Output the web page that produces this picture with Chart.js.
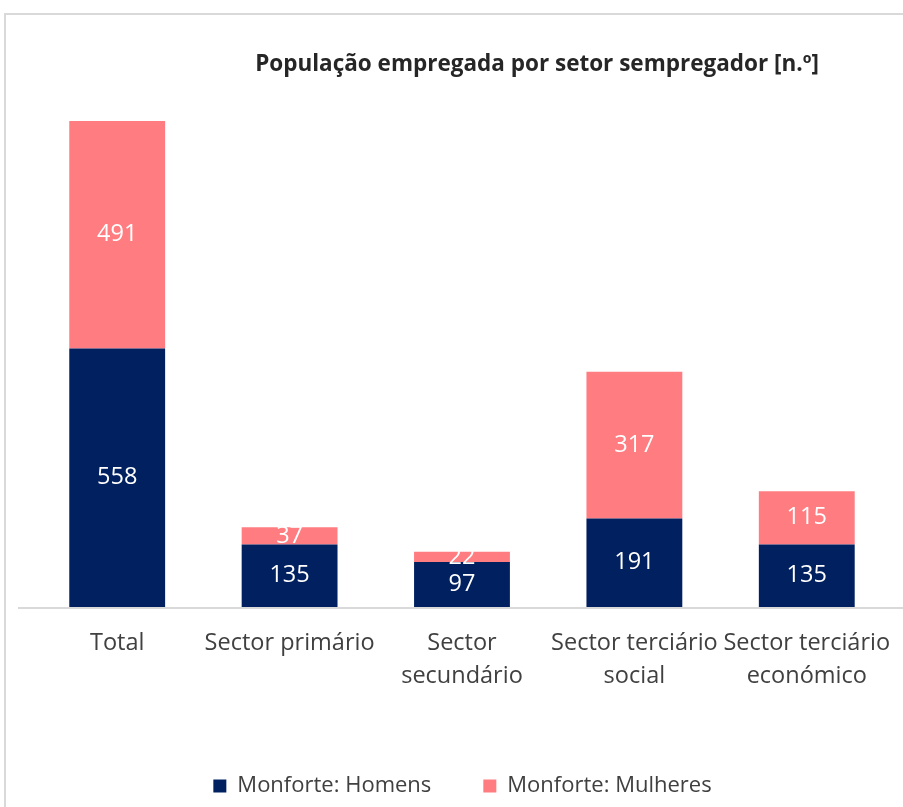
<!DOCTYPE html>
<html>
<head>
<meta charset="utf-8">
<script src="https://cdn.jsdelivr.net/npm/chart.js@4.4.1/dist/chart.umd.min.js"></script>
<style>
  body { margin: 0; background: #fff; overflow: hidden; }
  #frame { position: absolute; left: 4px; top: 13px; width: 1000px; height: 1000px; border: 2px solid #d9d9d9; }
  #title { position: absolute; left: 187px; width: 700px; top: 48px; line-height: 30px; text-align: center;
           font-family: "Open Sans"; font-weight: bold; font-size: 22.5px; color: #262626; }
  canvas { position: absolute; left: 0; top: 0; }
</style>
</head>
<body>
<div id="frame"></div>
<canvas id="myBarChart" width="903" height="807"></canvas>
<div id="title">População empregada por setor sempregador [n.º]</div>
<script>
const categories = ["Total", "Sector primário", ["Sector", "secundário"], ["Sector terciário", "social"], ["Sector terciário", "económico"]];
const homens = [558, 135, 97, 191, 135];
const mulheres = [491, 37, 22, 317, 115];
const seriesNames = ["Monforte: Homens", "Monforte: Mulheres"];

const textColor = "#404040";

// values in the middle of each segment
const segmentLabels = {
    id: "segmentLabels",
    afterDatasetsDraw(chart) {
        const ctx = chart.ctx;
        ctx.save();
        ctx.fillStyle = "#ffffff";
        ctx.font = "23.5px 'Open Sans'";
        ctx.textAlign = "center";
        ctx.textBaseline = "middle";
        chart.data.datasets.forEach((ds, i) => {
            chart.getDatasetMeta(i).data.forEach((bar, j) => {
                ctx.fillText(ds.data[j], bar.x, (bar.y + bar.base) / 2);
            });
        });
        ctx.restore();
    }
};

const baseLine = {
    id: "baseLine",
    beforeDatasetsDraw(chart) {
        const ctx = chart.ctx;
        const y = chart.scales.y.getPixelForValue(0);
        ctx.save();
        ctx.strokeStyle = "#d9d9d9";
        ctx.lineWidth = 2;
        ctx.beginPath();
        ctx.moveTo(chart.chartArea.left - 13, y + 1);
        ctx.lineTo(chart.width, y + 1);
        ctx.stroke();
        ctx.restore();
    }
};

const ctx = document.getElementById("myBarChart").getContext("2d");
const myBarChart = new Chart(ctx, {
    type: "bar",
    data: {
        labels: categories,
        datasets: [{
            label: seriesNames[0],
            data: homens,
            backgroundColor: "#002060",
            categoryPercentage: 1,
            barPercentage: 0.556
        }, {
            label: seriesNames[1],
            data: mulheres,
            backgroundColor: "#ff7c80",
            categoryPercentage: 1,
            barPercentage: 0.556
        }]
    },
    options: {
        responsive: false,
        animation: false,
        layout: { padding: { left: 31, right: 9, top: 51, bottom: 0 } },
        scales: {
            x: {
                stacked: true,
                grid: { display: false },
                border: { display: false },
                ticks: {
                    color: textColor,
                    font: { family: "Open Sans", size: 23.5, lineHeight: 1.4 },
                    padding: 12,
                    maxRotation: 0,
                    autoSkip: false
                },
                afterFit(scale) { scale.height = 116; }
            },
            y: {
                stacked: true,
                display: false,
                min: 0,
                max: 1200
            }
        },
        plugins: {
            legend: {
                position: "bottom",
                labels: {
                    color: textColor,
                    font: { family: "Open Sans", size: 22 },
                    boxWidth: 13,
                    boxHeight: 13,
                    padding: 52
                }
            },
            tooltip: { enabled: false }
        }
    },
    plugins: [segmentLabels, baseLine]
});
</script>
</body>
</html>
